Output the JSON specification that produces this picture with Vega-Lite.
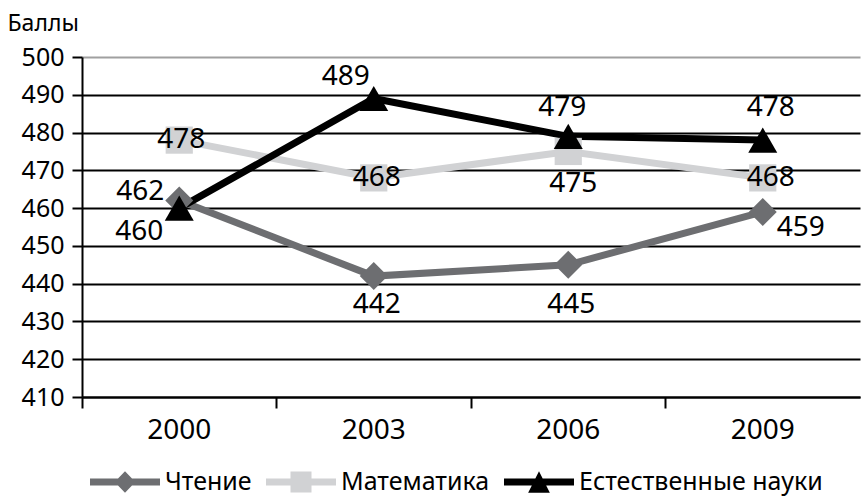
{
  "$schema": "https://vega.github.io/schema/vega-lite/v6.json",
  "autosize": "none",
  "width": 778,
  "height": 340,
  "padding": {"left": 82, "top": 57, "right": 2, "bottom": 101},
  "background": "white",
  "config": {
    "view": {"stroke": null},
    "font": "Noto Sans",
    "text": {"font": "Noto Sans", "fontSize": 28, "color": "black"}
  },
  "data": {
    "values": [
      {"series": "Чтение", "year": "2000", "score": 462},
      {"series": "Чтение", "year": "2003", "score": 442},
      {"series": "Чтение", "year": "2006", "score": 445},
      {"series": "Чтение", "year": "2009", "score": 459},
      {"series": "Математика", "year": "2000", "score": 478},
      {"series": "Математика", "year": "2003", "score": 468},
      {"series": "Математика", "year": "2006", "score": 475},
      {"series": "Математика", "year": "2009", "score": 468},
      {"series": "Естественные науки", "year": "2000", "score": 460},
      {"series": "Естественные науки", "year": "2003", "score": 489},
      {"series": "Естественные науки", "year": "2006", "score": 479},
      {"series": "Естественные науки", "year": "2009", "score": 478}
    ]
  },
  "encoding": {
    "x": {
      "field": "year",
      "type": "ordinal",
      "sort": ["2000", "2003", "2006", "2009"],
      "scale": {"type": "band", "paddingInner": 0, "paddingOuter": 0},
      "axis": {
        "title": null,
        "bandPosition": 0,
        "labelOverlap": false,
        "labelBound": false,
        "labelFlush": false,
        "labelFont": "Noto Sans",
        "labelFontSize": 28,
        "labelColor": "black",
        "labelPadding": 8,
        "tickSize": 11,
        "tickWidth": 2,
        "tickColor": "black",
        "domainColor": "black",
        "domainWidth": 2,
        "grid": false,
        "labelAngle": 0
      }
    },
    "y": {
      "field": "score",
      "type": "quantitative",
      "scale": {"domain": [410, 500], "nice": false, "zero": false},
      "axis": {
        "values": [410, 420, 430, 440, 450, 460, 470, 480, 490, 500],
        "title": "Баллы",
        "titleAngle": 0,
        "titleAlign": "left",
        "titleBaseline": "alphabetic",
        "titleX": -75,
        "titleY": -27,
        "titleFont": "Noto Sans",
        "titleFontSize": 23,
        "titleFontWeight": "normal",
        "titleColor": "black",
        "labelFont": "Noto Sans",
        "labelFontSize": 25,
        "labelColor": "black",
        "labelPadding": 8,
        "tickSize": 10,
        "tickWidth": 2,
        "tickColor": "black",
        "domainColor": "black",
        "domainWidth": 2,
        "grid": true,
        "gridWidth": 2,
        "gridColor": {"condition": {"test": "datum.value === 500", "value": "#a0a0a0"}, "value": "black"}
      }
    }
  },
  "layer": [
    {
      "mark": {"type": "line", "strokeWidth": 7},
      "encoding": {
        "color": {
          "field": "series",
          "type": "nominal",
          "sort": ["Чтение", "Математика", "Естественные науки"],
          "scale": {"domain": ["Чтение", "Математика", "Естественные науки"], "range": ["#6d6e71", "#d1d2d4", "#000000"]},
          "legend": {
            "orient": "none",
            "legendX": 8,
            "legendY": 390,
            "direction": "horizontal",
            "title": null,
            "padding": 0,
            "symbolSize": 4900,
            "labelFont": "Noto Sans",
            "labelFontSize": 25,
            "labelColor": "black",
            "labelLimit": 0,
            "labelOffset": 5,
            "columnPadding": 14,
            "encode": {
              "symbols": {
                "update": {
                  "shape": {"signal": "datum.value === 'Чтение' ? 'M-1,-0.1L-0.2,-0.1L0,-0.31L0.2,-0.1L1,-0.1L1,0.1L0.2,0.1L0,0.31L-0.2,0.1L-1,0.1Z' : datum.value === 'Математика' ? 'M-1,-0.1L-0.3,-0.1L-0.3,-0.3L0.3,-0.3L0.3,-0.1L1,-0.1L1,0.1L0.3,0.1L0.3,0.3L-0.3,0.3L-0.3,0.1L-1,0.1Z' : 'M-1,-0.1L-0.105,-0.1L0,-0.31L0.105,-0.1L1,-0.1L1,0.1L0.205,0.1L0.31,0.31L-0.31,0.31L-0.205,0.1L-1,0.1Z'"},
                  "fill": {"signal": "scale('color', datum.value)"},
                  "stroke": {"value": "transparent"},
                  "strokeWidth": {"value": 0},
                  "opacity": {"value": 1},
                  "size": {"value": 4900}
                }
              }
            }
          }
        }
      }
    },
    {
      "transform": [{"filter": "datum.series === 'Чтение'"}],
      "mark": {"type": "point", "filled": true, "opacity": 1, "size": 784, "shape": "diamond"},
      "encoding": {"color": {"field": "series", "type": "nominal", "legend": null}}
    },
    {
      "transform": [{"filter": "datum.series === 'Математика'"}],
      "mark": {"type": "point", "filled": true, "opacity": 1, "size": 740, "shape": "square"},
      "encoding": {"color": {"field": "series", "type": "nominal", "legend": null}}
    },
    {
      "transform": [{"filter": "datum.series === 'Естественные науки'"}],
      "mark": {"type": "point", "filled": true, "opacity": 1, "size": 840, "shape": "triangle-up"},
      "encoding": {"color": {"field": "series", "type": "nominal", "legend": null}}
    },
    {"transform": [{"filter": "datum.series === 'Чтение' && datum.year === '2000'"}], "mark": {"type": "text", "align": "right", "baseline": "middle", "dx": -15, "dy": -9}, "encoding": {"text": {"field": "score"}}},
    {"transform": [{"filter": "datum.series === 'Чтение' && datum.year === '2003'"}], "mark": {"type": "text", "align": "center", "baseline": "middle", "dx": 3, "dy": 29}, "encoding": {"text": {"field": "score"}}},
    {"transform": [{"filter": "datum.series === 'Чтение' && datum.year === '2006'"}], "mark": {"type": "text", "align": "center", "baseline": "middle", "dx": 3, "dy": 40}, "encoding": {"text": {"field": "score"}}},
    {"transform": [{"filter": "datum.series === 'Чтение' && datum.year === '2009'"}], "mark": {"type": "text", "align": "left", "baseline": "middle", "dx": 14, "dy": 16}, "encoding": {"text": {"field": "score"}}},
    {"transform": [{"filter": "datum.series === 'Математика' && datum.year === '2000'"}], "mark": {"type": "text", "align": "center", "baseline": "middle", "dx": 2, "dy": 0}, "encoding": {"text": {"field": "score"}}},
    {"transform": [{"filter": "datum.series === 'Математика' && datum.year === '2003'"}], "mark": {"type": "text", "align": "center", "baseline": "middle", "dx": 3, "dy": 0}, "encoding": {"text": {"field": "score"}}},
    {"transform": [{"filter": "datum.series === 'Математика' && datum.year === '2006'"}], "mark": {"type": "text", "align": "center", "baseline": "middle", "dx": 5, "dy": 33}, "encoding": {"text": {"field": "score"}}},
    {"transform": [{"filter": "datum.series === 'Математика' && datum.year === '2009'"}], "mark": {"type": "text", "align": "center", "baseline": "middle", "dx": 8, "dy": 0}, "encoding": {"text": {"field": "score"}}},
    {"transform": [{"filter": "datum.series === 'Естественные науки' && datum.year === '2000'"}], "mark": {"type": "text", "align": "right", "baseline": "middle", "dx": -16, "dy": 24}, "encoding": {"text": {"field": "score"}}},
    {"transform": [{"filter": "datum.series === 'Естественные науки' && datum.year === '2003'"}], "mark": {"type": "text", "align": "right", "baseline": "middle", "dx": -4, "dy": -22}, "encoding": {"text": {"field": "score"}}},
    {"transform": [{"filter": "datum.series === 'Естественные науки' && datum.year === '2006'"}], "mark": {"type": "text", "align": "center", "baseline": "middle", "dx": -6, "dy": -28}, "encoding": {"text": {"field": "score"}}},
    {"transform": [{"filter": "datum.series === 'Естественные науки' && datum.year === '2009'"}], "mark": {"type": "text", "align": "center", "baseline": "middle", "dx": 8, "dy": -32}, "encoding": {"text": {"field": "score"}}}
  ]
}
